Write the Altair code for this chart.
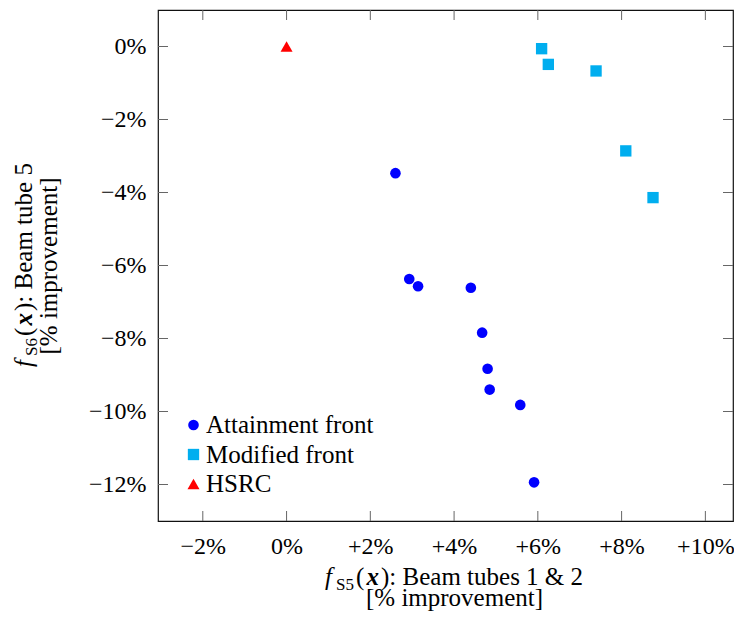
import altair as alt
import pandas as pd

# ---------------- data ----------------
series_names = ["Attainment front", "Modified front", "HSRC"]
att_x = [2.60, 2.93, 3.14, 4.40, 4.67, 4.80, 4.85, 5.58, 5.91]
att_y = [-3.47, -6.37, -6.57, -6.61, -7.84, -8.83, -9.40, -9.82, -11.94]
mod_x = [6.09, 6.25, 7.39, 8.10, 8.75]
mod_y = [-0.06, -0.49, -0.67, -2.86, -4.14]
hsrc_x = [0.0]
hsrc_y = [0.0]
x_ticks = [-2, 0, 2, 4, 6, 8, 10]
y_ticks = [0, -2, -4, -6, -8, -10, -12]
x_domain = [-3.07, 10.66]
y_domain = [-13, 1]
x_title_main = "): Beam tubes 1 & 2"
y_title_main = "): Beam tube 5"
x_sub = "S5"
y_sub = "S6"
unit_line = "[% improvement]"

rows = []
for name, xs_, ys_ in zip(series_names, [att_x, mod_x, hsrc_x], [att_y, mod_y, hsrc_y]):
    for xv, yv in zip(xs_, ys_):
        rows.append({"series": name, "x": xv, "y": yv})
df = pd.DataFrame(rows)

# ---------------- style ----------------
W, H = 575, 511
FONT = "'Liberation Serif', 'Times New Roman', serif"
TICK = "#666666"
label_expr = ("datum.value == 0 ? '0%' : (datum.value > 0 ? '+' : '\u2212') "
              "+ abs(datum.value) + '%'")

xs = alt.Scale(domain=x_domain, nice=False, zero=False)
ys = alt.Scale(domain=y_domain, nice=False, zero=False)

x_axis = alt.Axis(values=x_ticks, labelExpr=label_expr, title=None, grid=False,
                  domain=False, ticks=False, labelPadding=13, labelFontSize=24,
                  labelFont=FONT, labelColor="black", labelBaseline="top")
y_axis = alt.Axis(values=y_ticks, labelExpr=label_expr, title=None, grid=False,
                  domain=False, ticks=False, labelPadding=12, labelFontSize=24,
                  labelFont=FONT, labelColor="black")

legend = alt.Legend(title=None, orient="none", legendX=23, legendY=402.5,
                    labelFont=FONT, labelFontSize=25, labelColor="black",
                    labelOffset=0, rowPadding=3.5, padding=0, labelLimit=0,
                    symbolSize=120, symbolStrokeWidth=0, symbolOpacity=1)

points = alt.Chart(df).mark_point(filled=True, opacity=1, strokeWidth=0).encode(
    x=alt.X("x:Q", scale=xs, axis=x_axis),
    y=alt.Y("y:Q", scale=ys, axis=y_axis),
    color=alt.Color("series:N",
                    scale=alt.Scale(domain=series_names, range=["#0000ff", "#00aeef", "#ff0000"]),
                    legend=legend),
    shape=alt.Shape("series:N",
                    scale=alt.Scale(domain=series_names, range=["circle", "square", "triangle-up"]),
                    legend=legend),
    size=alt.Size("series:N",
                  scale=alt.Scale(domain=series_names, range=[113, 144, 130]),
                  legend=None),
)

xt = pd.DataFrame({"x": x_ticks})
yt = pd.DataFrame({"y": y_ticks})
tick_bottom = alt.Chart(xt).mark_rule(color=TICK, strokeWidth=1).encode(
    x=alt.X("x:Q", scale=xs, axis=x_axis), y=alt.value(H), y2=alt.value(H - 10))
tick_top = alt.Chart(xt).mark_rule(color=TICK, strokeWidth=1).encode(
    x=alt.X("x:Q", scale=xs, axis=x_axis), y=alt.value(0), y2=alt.value(10))
tick_left = alt.Chart(yt).mark_rule(color=TICK, strokeWidth=1).encode(
    y=alt.Y("y:Q", scale=ys, axis=y_axis), x=alt.value(0), x2=alt.value(10))
tick_right = alt.Chart(yt).mark_rule(color=TICK, strokeWidth=1).encode(
    y=alt.Y("y:Q", scale=ys, axis=y_axis), x=alt.value(W), x2=alt.value(W - 10))

one = alt.Data(values=[{"a": 1}])


def piece(text, x, y, angle=0, dx=0, dy=0, size=25, style="normal", weight="normal", align="left"):
    kw = dict(text=text, font=FONT, fontSize=size, fontStyle=style, fontWeight=weight,
              color="black", align=align, baseline="alphabetic", dx=dx, dy=dy)
    if angle:
        kw["angle"] = angle
    return alt.Chart(one).mark_text(**kw).encode(x=alt.value(x), y=alt.value(y))


def math_title(sub, main, x, y, angle=0):
    return [
        piece("f", x, y, angle, dx=0, style="italic"),
        piece(sub, x, y, angle, dx=11, dy=5, size=17),
        piece("(", x, y, angle, dx=31),
        piece("x", x, y, angle, dx=41.5, style="italic", weight="bold"),
        piece(main, x, y, angle, dx=56),
    ]


titles = (math_title(x_sub, x_title_main, 167, 575)
          + [piece(unit_line, 296.5, 596, align="center")]
          + math_title(y_sub, y_title_main, -126.3, 357, angle=270)
          + [piece(unit_line, -101, 256, angle=270, align="center")])

chart = alt.layer(points, tick_bottom, tick_top, tick_left, tick_right, *titles).properties(
    width=W, height=H,
    autosize=alt.AutoSizeParams(type="none"),
    padding={"left": 150, "top": 2, "right": 1, "bottom": 91},
).configure(
    background="white",
    view=alt.ViewConfig(stroke="#111111", strokeWidth=1.2),
)

chart.save("out.html", embed_options={"renderer": "svg", "actions": False})
